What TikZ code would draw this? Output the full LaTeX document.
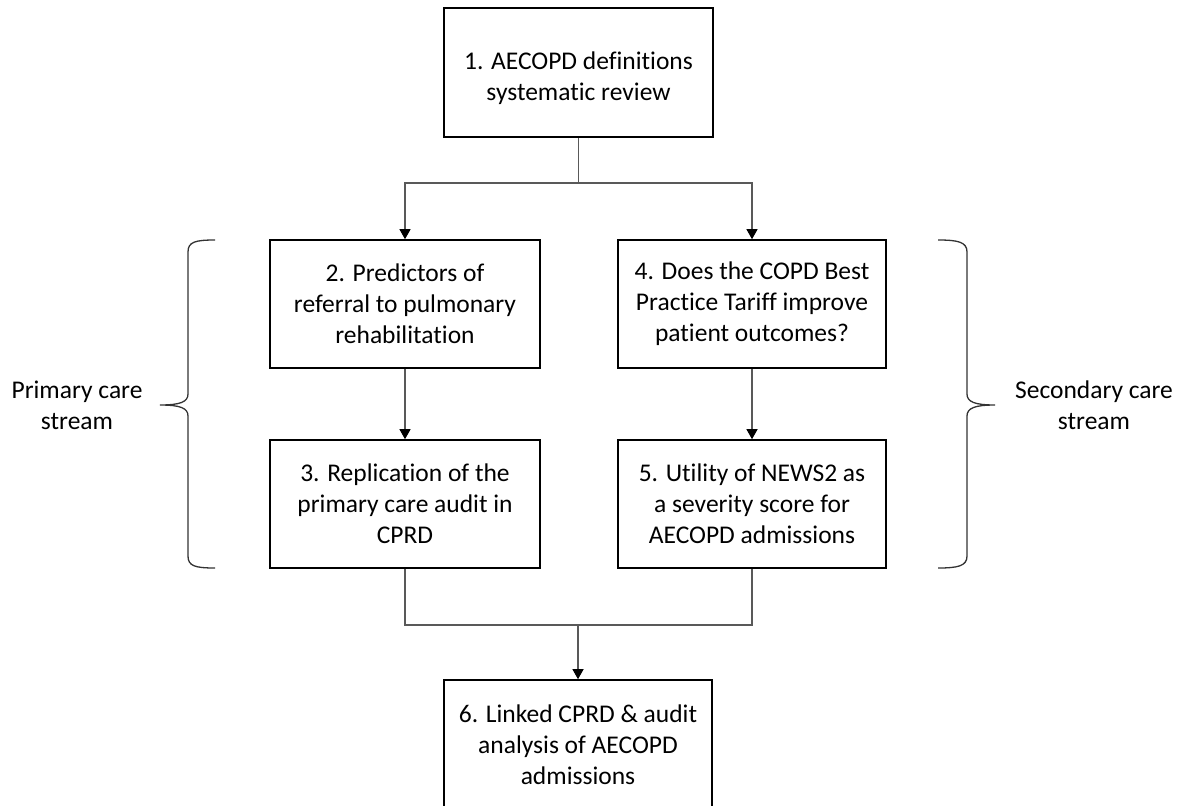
\documentclass[tikz,border=0pt]{standalone}
\usepackage{fontspec}
\setmainfont{Carlito}[Ligatures=NoCommon]
\usetikzlibrary{arrows.meta}
\definecolor{linkgray}{RGB}{89,89,89}
\begin{document}
\begin{tikzpicture}[x=1pt,y=-1pt,
  txt/.style={font=\fontsize{25.5}{31}\selectfont, align=center},
  box/.style={txt, draw=black, line width=1.6pt, inner sep=0pt, fill=white},
  link/.style={draw=linkgray, line width=1.2pt},
  arr/.style={link, -{Triangle[length=10pt,width=11pt,color=black]}},
  brace/.style={draw=black!80, line width=1.3pt}
]
\useasboundingbox (0,0) rectangle (1182,805);

% study boxes
\node[box, minimum width=269pt, minimum height=129pt] (b1) at (578.5,72.5)
  {\begin{tabular}{@{}c@{}}\rule{0pt}{35pt}1. AECOPD definitions\\systematic review\end{tabular}};
\node[box, minimum width=270pt, minimum height=128pt] (b2) at (405,304)
  {2. Predictors of\\referral to pulmonary\\rehabilitation};
\node[box, minimum width=270pt, minimum height=128pt] (b3) at (405,504)
  {3. Replication of the\\primary care audit in\\CPRD};
\node[box, minimum width=268pt, minimum height=128pt] (b4) at (752,304)
  {4. Does the COPD Best\\Practice Tariff improve\\patient outcomes?};
\node[box, minimum width=268pt, minimum height=128pt] (b5) at (752,504)
  {5. Utility of NEWS2 as\\a severity score for\\AECOPD admissions};
\node[box, minimum width=268pt, minimum height=130pt] (b6) at (578,745)
  {6. Linked CPRD \& audit\\analysis of AECOPD\\admissions};

% connectors
\coordinate (split) at (578.5,183);
\coordinate (merge) at (578,625);
\draw[link] (b1.south) -- (split);
\draw[arr] (split) -| (b2.north);
\draw[arr] (split) -| (b4.north);
\draw[arr] (b2.south) -- (b3.north);
\draw[arr] (b4.south) -- (b5.north);
\draw[link] (b3.south) |- (merge);
\draw[link] (b5.south) |- (merge);
\draw[arr] (merge) -- (b6.north);

% stream braces
\coordinate (lt) at (215,240);
\coordinate (ltip) at (160,405);
\coordinate (lb) at (215,568);
\draw[brace] (lt) .. controls (195,240) and (188,242) .. (188,252)
  -- (188,394) .. controls (188,402) and (180,405) .. (ltip)
  .. controls (180,405) and (188,408) .. (188,416)
  -- (188,556) .. controls (188,566) and (195,568) .. (lb);
\coordinate (rt) at (938,240);
\coordinate (rtip) at (995,405);
\coordinate (rb) at (938,568);
\draw[brace] (rt) .. controls (958,240) and (967,242) .. (967,252)
  -- (967,394) .. controls (967,402) and (975,405) .. (rtip)
  .. controls (975,405) and (967,408) .. (967,416)
  -- (967,556) .. controls (967,566) and (958,568) .. (rb);

% stream labels
\node[txt] (lp) at (77,405) {Primary care\\stream};
\node[txt] (ls) at (1094,405) {Secondary care\\stream};
\end{tikzpicture}
\end{document}
